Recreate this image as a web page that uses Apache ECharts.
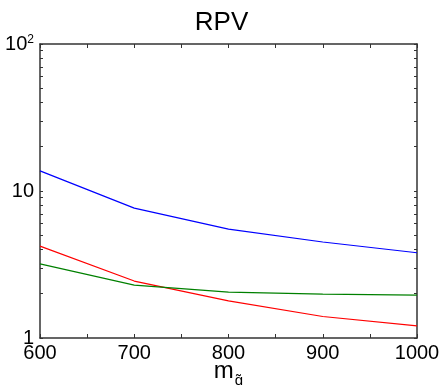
<!DOCTYPE html>
<html>
<head>
<meta charset="utf-8">
<script src="https://cdn.jsdelivr.net/npm/echarts@6/dist/echarts.min.js"></script>
<style>
  html, body { margin: 0; padding: 0; background: #fff; }
  #main { width: 443px; height: 385px; }
</style>
</head>
<body>
<div id="main"></div>
<script>
// gluino mass points
var masses = [600, 700, 800, 900, 1000];
var blueLine = [13.7, 7.65, 5.5, 4.5, 3.8];
var redLine = [4.22, 2.44, 1.79, 1.4, 1.21];
var greenLine = [3.19, 2.29, 2.05, 1.99, 1.96];
var yMinorTicks = [1, 2, 3, 4, 5, 6, 7, 8, 9, 10, 20, 30, 40, 50, 60, 70, 80, 90, 100];
var yTickLabels = [1, 10, 100];
var xTickLabels = [600, 700, 800, 900, 1000];

var font = 'Liberation Sans';
var axisCol = '#333';

function pairs(vals) {
  var out = [];
  for (let i = 0; i < masses.length; i++) {
    out.push([masses[i], vals[i]]);
  }
  return out;
}

function yLabel(v) {
  if (v >= 100) return '10{sup|2}';
  return String(Math.round(v));
}

function makeY(pos, showLabels) {
  return {
    type: 'log',
    logBase: 10,
    min: 1,
    max: 100,
    position: pos,
    axisLine: { show: true, lineStyle: { color: axisCol, width: 1.5 } },
    axisTick: { show: true, inside: true, length: 3, customValues: yMinorTicks, lineStyle: { color: axisCol } },
    axisLabel: {
      show: showLabels,
      customValues: yTickLabels,
      formatter: yLabel,
      color: '#000',
      fontFamily: font,
      fontSize: 20,
      margin: 6,
      rich: { sup: { fontSize: 12, verticalAlign: 'top', padding: [0, 0, 9, 0], fontFamily: font } }
    },
    splitLine: { show: false }
  };
}

function makeX(pos, showLabels) {
  return {
    type: 'value',
    min: 600,
    max: 1000,
    interval: 50,
    position: pos,
    name: showLabels ? '{m|m}{s|g̃}' : '',
    nameLocation: 'middle',
    nameGap: 21,
    nameMoveOverlap: false,
    nameTextStyle: {
      lineHeight: 29,
      rich: {
        m: { fontSize: 24, lineHeight: 24, fontFamily: font, color: '#000', verticalAlign: 'top' },
        s: { fontSize: 15, lineHeight: 29, fontFamily: font, color: '#000', verticalAlign: 'bottom', padding: [0, 0, 0, 1] }
      }
    },
    axisLine: { show: true, lineStyle: { color: axisCol, width: 1.5 } },
    axisTick: { show: true, inside: true, length: 4, lineStyle: { color: axisCol } },
    axisLabel: {
      show: showLabels,
      customValues: xTickLabels,
      formatter: function (v) { return String(v); },
      color: '#000',
      fontFamily: font,
      fontSize: 20,
      margin: 5
    },
    splitLine: { show: false }
  };
}

var chart = echarts.init(document.getElementById('main'));
chart.setOption({
  animation: false,
  backgroundColor: '#fff',
  title: {
    text: 'RPV',
    left: 'center',
    top: 5,
    textStyle: { fontFamily: font, fontWeight: 'normal', fontSize: 26, color: '#000' }
  },
  grid: { left: 40, right: 26, top: 44, bottom: 47, outerBoundsMode: 'none' },
  xAxis: [makeX('bottom', true), makeX('top', false)],
  yAxis: [makeY('left', true), makeY('right', false)],
  series: [
    { name: 'blue', type: 'line', data: pairs(blueLine), showSymbol: false, lineStyle: { color: '#0000ff', width: 1.2 } },
    { name: 'red', type: 'line', data: pairs(redLine), showSymbol: false, lineStyle: { color: '#ff0000', width: 1.2 } },
    { name: 'green', type: 'line', data: pairs(greenLine), showSymbol: false, lineStyle: { color: '#008000', width: 1.2 } }
  ]
});
</script>
</body>
</html>
